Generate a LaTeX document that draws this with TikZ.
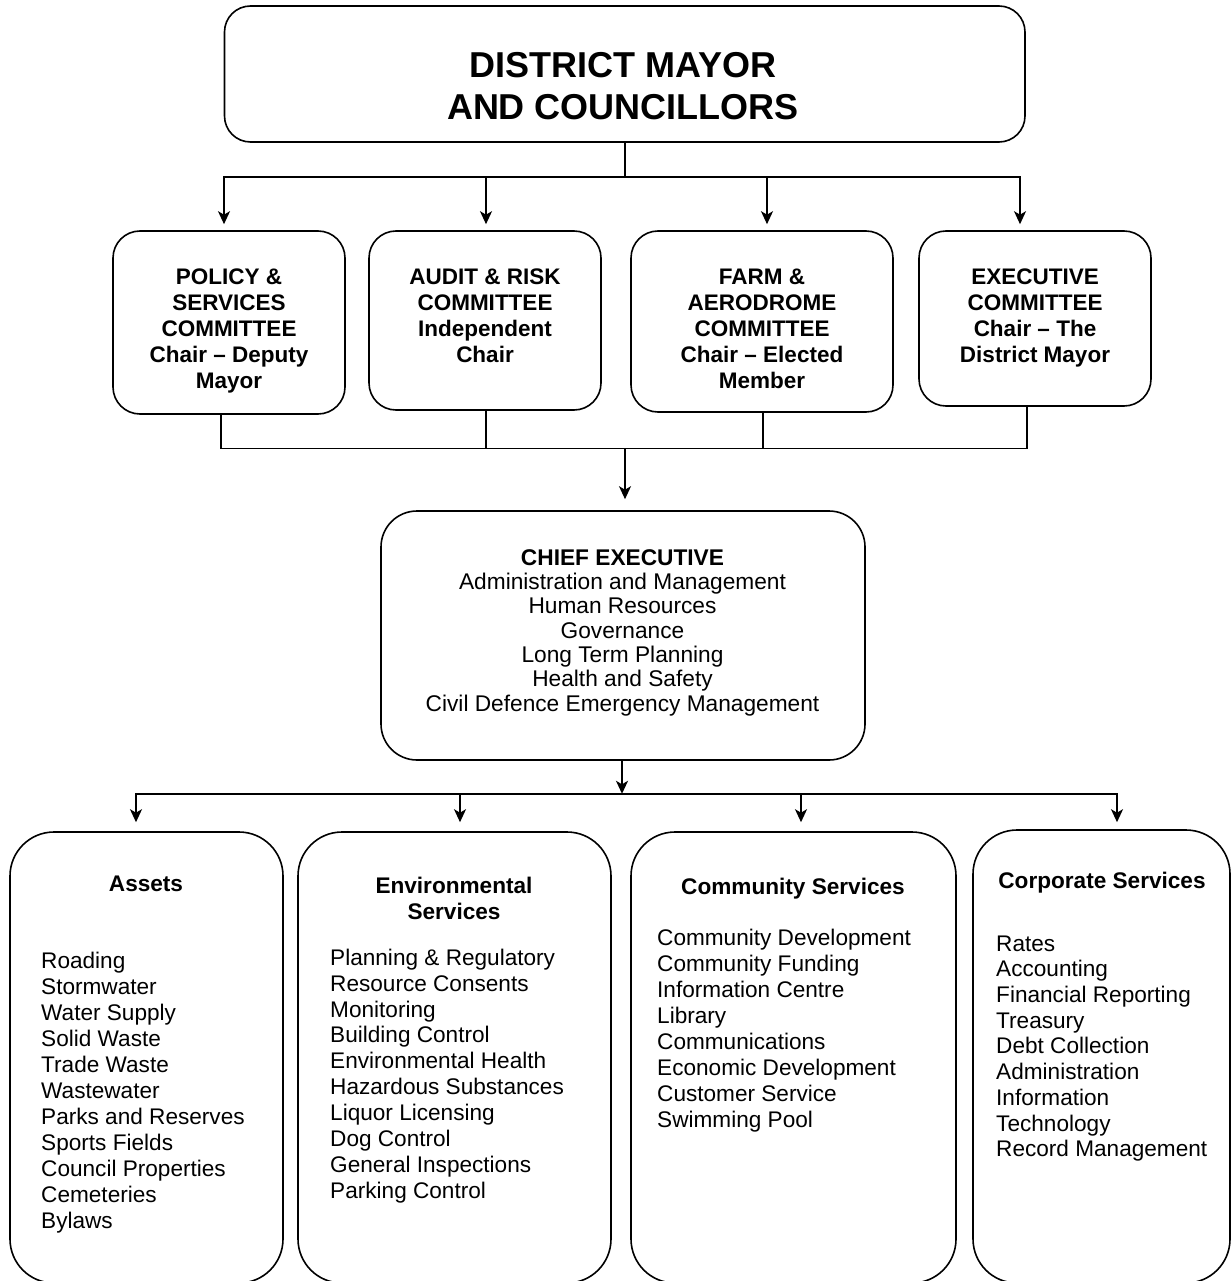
\documentclass[tikz,border=0pt]{standalone}
\usepackage{fontspec}
\setmainfont{Liberation Sans}
\usetikzlibrary{arrows.meta}
\begin{document}
\begin{tikzpicture}[x=1pt,y=-1pt,
  box/.style={draw, line width=1.6pt, rounded corners=#1, inner sep=0pt, rectangle},
  box/.default=27pt,
  conn/.style={line width=1.7pt},
  arr/.style={line width=1.7pt, -{Stealth[length=13pt,width=12pt,inset=3.5pt]}},
  ctxt/.style={font=\fontsize{22.5}{26}\selectfont\bfseries, align=center, inner sep=0pt, anchor=north},
  hd/.style={font=\fontsize{22.6}{26}\selectfont\bfseries, inner sep=0pt, align=center},
  lst/.style={font=\fontsize{22.6}{26}\selectfont, inner sep=0pt, align=left, anchor=north west},
]
\useasboundingbox (0,0) rectangle (1231,1281);
\clip (0,0) rectangle (1231,1281);
\fill[white] (0,0) rectangle (1231,1281);

% boxes
\node[box=26pt, minimum width=800.5pt, minimum height=136pt] (mayor) at (624.75,74) {};
\node[box, minimum width=232pt, minimum height=183pt] (pol) at (229,322.5) {};
\node[box, minimum width=232pt, minimum height=179pt] (aud) at (485,320.5) {};
\node[box, minimum width=262pt, minimum height=181pt] (farm) at (762,321.5) {};
\node[box, minimum width=232pt, minimum height=175pt] (exe) at (1035,318.5) {};
\node[box=36pt, minimum width=484pt, minimum height=249pt] (chief) at (623,635.5) {};
\node[box=44pt, minimum width=273pt, minimum height=451pt] (assets) at (146.5,1057.5) {};
\node[box=44pt, minimum width=313pt, minimum height=451pt] (env) at (454.5,1057.5) {};
\node[box=44pt, minimum width=325pt, minimum height=451pt] (comm) at (793.5,1057.5) {};
\node[box=44pt, minimum width=257pt, minimum height=453pt] (corp) at (1101.5,1056.5) {};

% texts
\node[font=\fontsize{36}{42}\selectfont\bfseries, align=center, inner sep=0pt, anchor=north] (mayortxt) at (623,48) {\strut DISTRICT MAYOR\\AND COUNCILLORS};
\node[ctxt] (poltxt) at (229,265.9) {\strut POLICY \&\\SERVICES\\COMMITTEE\\Chair – Deputy\\Mayor};
\node[ctxt] (audtxt) at (485,265.9) {\strut AUDIT \& RISK\\COMMITTEE\\Independent\\Chair};
\node[ctxt] (farmtxt) at (762,265.9) {\strut FARM \&\\AERODROME\\COMMITTEE\\Chair – Elected\\Member};
\node[ctxt] (exetxt) at (1035,265.9) {\strut EXECUTIVE\\COMMITTEE\\Chair – The\\District Mayor};
\node[font=\fontsize{22.7}{24.3}\selectfont, align=center, inner sep=0pt, anchor=north] (chieftxt) at (622.5,548.1)
  {\strut\textbf{CHIEF EXECUTIVE}\\Administration and Management\\Human Resources\\Governance\\Long Term Planning\\Health and Safety\\Civil Defence Emergency Management};

\node[hd, anchor=base] (assetshd) at (146,891.1) {Assets};
\node[hd, anchor=north] (envhd) at (454,874.9) {\strut Environmental\\Services};
\node[hd, anchor=base] (commhd) at (793,894.1) {Community Services};
\node[hd, anchor=base] (corphd) at (1102,888.1) {Corporate Services};

\node[lst] (assetslst) at (41,949.9) {\strut Roading\\Stormwater\\Water Supply\\Solid Waste\\Trade Waste\\Wastewater\\Parks and Reserves\\Sports Fields\\Council Properties\\Cemeteries\\Bylaws};
\node[lst, font=\fontsize{22.6}{25.9}\selectfont] (envlst) at (330,946.9) {\strut Planning \& Regulatory\\Resource Consents\\Monitoring\\Building Control\\Environmental Health\\Hazardous Substances\\Liquor Licensing\\Dog Control\\General Inspections\\Parking Control};
\node[lst] (commlst) at (657,926.9) {\strut Community Development\\Community Funding\\Information Centre\\Library\\Communications\\Economic Development\\Customer Service\\Swimming Pool};
\node[lst, font=\fontsize{22.6}{25.7}\selectfont] (corplst) at (996,932.9) {\strut Rates\\Accounting\\Financial Reporting\\Treasury\\Debt Collection\\Administration\\Information\\Technology\\Record Management};

% connectors
\draw[conn] (mayor.south) -- ++(0,34) coordinate (busA);
\draw[arr, shorten >=6pt] (busA) -| ([xshift=-5pt]pol.north);
\draw[arr, shorten >=6pt] (busA) -| ([xshift=1pt]aud.north);
\draw[arr, shorten >=6pt] (busA) -| ([xshift=5pt]farm.north);
\draw[arr, shorten >=6pt] (busA) -| ([xshift=-15pt]exe.north);

\coordinate (busB) at (625,448.5);
\draw[conn] ([xshift=-8pt]pol.south) |- (busB);
\draw[conn] ([xshift=1pt]aud.south) |- (busB);
\draw[conn] ([xshift=1pt]farm.south) |- (busB);
\draw[conn] ([xshift=-8pt]exe.south) |- (busB);
\draw[arr, shorten >=11pt] (busB) -- (busB |- chief.north);

\draw[arr] ([xshift=-1pt]chief.south) -- ++(0,33) coordinate (busC);
\draw[arr, shorten >=9pt] (busC) -| ([xshift=-10.5pt]assets.north);
\draw[arr, shorten >=9pt] (busC) -| ([xshift=5.5pt]env.north);
\draw[arr, shorten >=9pt] (busC) -| ([xshift=7.5pt]comm.north);
\draw[arr, shorten >=7pt] (busC) -| ([xshift=15.5pt]corp.north);
\end{tikzpicture}
\end{document}
